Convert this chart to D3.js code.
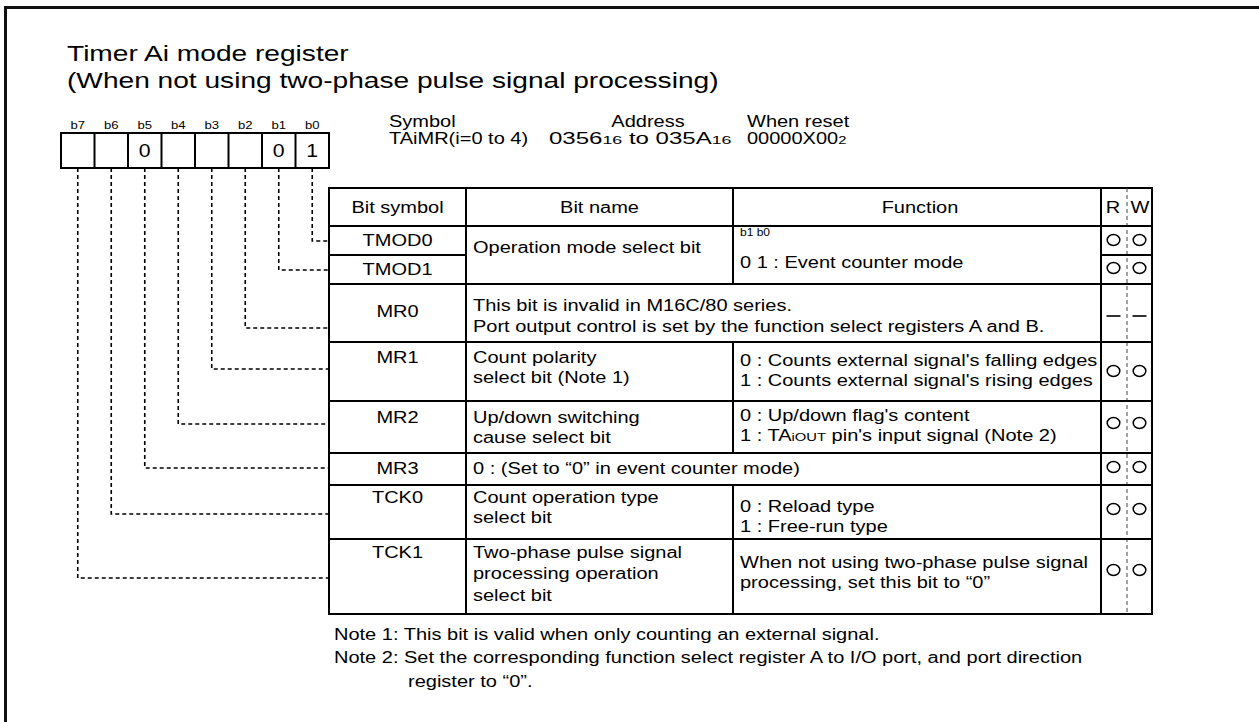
<!DOCTYPE html>
<html><head><meta charset="utf-8">
<script src="https://cdn.jsdelivr.net/npm/d3@7"></script>
<style>body{margin:0;background:#fff} svg{display:block}</style>
</head><body>
<svg id="c" width="1259" height="722"></svg>
<script>
// ---------- content ----------
const titleLines = ["Timer Ai mode register", "(When not using two-phase pulse signal processing)"];
const bitLabels = ["b7","b6","b5","b4","b3","b2","b1","b0"];
const bitValues = ["","","0","","","","0","1"];
const infoHeads = ["Symbol","Address","When reset"];
const infoValues = ["TAiMR(i=0 to 4)", "0356{16} to 035A{16}", "00000X00{2}"];
const headers = ["Bit symbol","Bit name","Function","R","W"];
// index 0 = b0 ... index 7 = b7
const bitSymbols = ["TMOD0","TMOD1","MR0","MR1","MR2","MR3","TCK0","TCK1"];
const bitNames = [
  ["Operation mode select bit"],
  [],
  ["This bit is invalid in M16C/80 series.","Port output control is set by the function select registers A and B."],
  ["Count polarity","select bit (Note 1)"],
  ["Up/down switching","cause select bit"],
  ["0 : (Set to \u201c0\u201d in event counter mode)"],
  ["Count operation type","select bit"],
  ["Two-phase pulse signal","processing operation","select bit"]
];
const funcCaption = "b1 b0";
const functions = [
  ["0 1 : Event counter mode"],
  [],
  [],
  ["0 : Counts external signal's falling edges","1 : Counts external signal's rising edges"],
  ["0 : Up/down flag's content","1 : TA{iOUT} pin's input signal (Note 2)"],
  [],
  ["0 : Reload type","1 : Free-run type"],
  ["When not using two-phase pulse signal","processing, set this bit to \u201c0\u201d"]
];
const readWrite = [["O","O"],["O","O"],["-","-"],["O","O"],["O","O"],["O","O"],["O","O"],["O","O"]];
const notes = [
  "Note 1: This bit is valid when only counting an external signal.",
  "Note 2: Set the corresponding function select register A to I/O port, and port direction",
  "register to \u201c0\u201d."
];

// ---------- layout ----------
const FONT = "Arial, 'Liberation Sans', Helvetica, sans-serif";
const SX = 1.25;           // horizontal stretch of the original scan
const FS = 16;             // body font size
const tbl = {x0:329, x1:466, x2:733, x3:1101, x4:1152, xrw:1127, top:188, head:226};
const rowEdges = [226,255,284,342,401,453,485,539,614]; // row tops, last = bottom
// offsets (from row top) of first text line centers etc.
const rowLay = [
  {sym:14, name:21, func:36, cap:6, rw:14, lead:15},
  {sym:14, rw:13, lead:15},
  {sym:27, name:21, gap:21, merged:true, rw:32, lead:44},
  {sym:15, name:15, func:18, rw:29, lead:27},
  {sym:16, name:16, func:14, rw:22, lead:23},
  {sym:15, name:15, merged:true, rw:14, lead:15},
  {sym:12, name:12, func:21, rw:24, lead:29},
  {sym:13, name:13, gap:21.5, func:23, rw:31, lead:39}
];

const svg = d3.select("#c").attr("font-family", FONT);

function addText(g, x, yc, str, fs, sx, anchor) {
  const t = g.append("text")
    .attr("transform", `translate(${x},${yc + 0.36*fs}) scale(${sx},1)`)
    .attr("font-size", fs).attr("text-anchor", anchor || "start").attr("fill", "#000");
  str.split(/(\{[^}]*\})/).filter(s => s).forEach(p => {
    if (p[0] === "{") t.append("tspan").attr("font-size", fs*0.74).text(p.slice(1,-1));
    else t.append("tspan").text(p);
  });
  return t;
}
function line(g, x1, y1, x2, y2, w, dash, col) {
  return g.append("line").attr("x1",x1).attr("y1",y1).attr("x2",x2).attr("y2",y2)
    .attr("stroke", col || "#000").attr("stroke-width", w || 2)
    .attr("stroke-dasharray", dash || null);
}

// frame
line(svg, 4, 7.5, 1259, 7.5, 3, null, "#111");
line(svg, 5.5, 6, 5.5, 722, 3, null, "#111");

// title
titleLines.forEach((s, i) => addText(svg, 67, 53 + i*27, s, 22.5, 1.25));

// bit box
const xb = d3.scaleBand().domain(bitLabels).range([61, 329]);
const gb = svg.append("g");
gb.append("rect").attr("x", 61).attr("y", 133).attr("width", 268).attr("height", 35)
  .attr("fill","none").attr("stroke","#000").attr("stroke-width",2);
bitLabels.slice(1).forEach(b => line(gb, xb(b), 133, xb(b), 168, 2));
bitLabels.forEach((b, i) => {
  addText(gb, xb(b) + xb.bandwidth()/2, 125, b, 10.5, 1.25, "middle");
  if (bitValues[i]) addText(gb, xb(b) + xb.bandwidth()/2, 150.5, bitValues[i], 19, 1.12, "middle");
});

// symbol / address / reset
const gi = svg.append("g");
addText(gi, 389, 121, infoHeads[0], FS, SX);
addText(gi, 389, 138.5, infoValues[0], FS, SX);
addText(gi, 648, 121, infoHeads[1], FS, SX, "middle");
addText(gi, 549, 138.5, infoValues[1], FS, SX).attr("textLength", 146).attr("lengthAdjust","spacingAndGlyphs");
addText(gi, 747, 121, infoHeads[2], FS, SX);
addText(gi, 747, 138.5, infoValues[2], FS, SX);

// leaders (dashed) from each bit to its row
const gl = svg.append("g");
bitSymbols.forEach((s, i) => {
  const b = bitLabels[7 - i];
  const cx = xb(b) + xb.bandwidth()/2;
  const y = rowEdges[i] + rowLay[i].lead;
  gl.append("path").attr("d", `M${cx},168 V${y} H${tbl.x0}`)
    .attr("fill","none").attr("stroke","#000").attr("stroke-width",1.6)
    .attr("stroke-dasharray","4,3");
});

// table
const gt = svg.append("g");
const bottom = rowEdges[rowEdges.length-1];
gt.append("rect").attr("x", tbl.x0).attr("y", tbl.top).attr("width", tbl.x4 - tbl.x0)
  .attr("height", bottom - tbl.top).attr("fill","none").attr("stroke","#000").attr("stroke-width",2);
line(gt, tbl.x1, tbl.top, tbl.x1, bottom, 2);
line(gt, tbl.x3, tbl.top, tbl.x3, bottom, 2);
line(gt, tbl.xrw, tbl.top, tbl.xrw, bottom, 1, "4,3", "#444");
// function column divider (skip merged rows)
line(gt, tbl.x2, tbl.top, tbl.x2, rowEdges[0], 2);
bitSymbols.forEach((s, i) => {
  if (!rowLay[i].merged) line(gt, tbl.x2, rowEdges[i], tbl.x2, rowEdges[i+1], 2);
});
// horizontal row lines
line(gt, tbl.x0, tbl.head, tbl.x4, tbl.head, 2);
rowEdges.slice(1, -1).forEach((y, k) => {
  const i = k + 1;
  if (i === 1) { line(gt, tbl.x0, y, tbl.x1, y, 2); line(gt, tbl.x3, y, tbl.x4, y, 2); }
  else line(gt, tbl.x0, y, tbl.x4, y, 2);
});

// headers
const hc = (tbl.top + tbl.head)/2;
addText(gt, (tbl.x0+tbl.x1)/2, hc, headers[0], FS, SX, "middle");
addText(gt, (tbl.x1+tbl.x2)/2, hc, headers[1], FS, SX, "middle");
addText(gt, (tbl.x2+tbl.x3)/2 + 3, hc, headers[2], FS, SX, "middle");
addText(gt, tbl.xrw - 14, hc, headers[3], FS, SX, "middle");
addText(gt, tbl.xrw + 13, hc, headers[4], FS, SX, "middle");

// rows
bitSymbols.forEach((s, i) => {
  const top = rowEdges[i], lay = rowLay[i];
  addText(gt, (tbl.x0+tbl.x1)/2, top + lay.sym, s, FS, SX, "middle");
  const gap = lay.gap || 20;
  bitNames[i].forEach((t, j) => addText(gt, tbl.x1 + 7, top + lay.name + j*gap, t, FS, SX));
  functions[i].forEach((t, j) => addText(gt, tbl.x2 + 7, top + lay.func + j*20, t, FS, SX));
  if (lay.cap !== undefined) addText(gt, tbl.x2 + 7, top + lay.cap, funcCaption, 10, 1.2);
  const ry = top + lay.rw;
  readWrite[i].forEach((m, k) => {
    const cx = k === 0 ? tbl.xrw - 13.5 : tbl.xrw + 12.5;
    if (m === "O") gt.append("ellipse").attr("cx", cx).attr("cy", ry).attr("rx", 6.3).attr("ry", 5.5)
      .attr("fill","none").attr("stroke","#000").attr("stroke-width",1.5);
    else line(gt, cx - 7, ry, cx + 7, ry, 1.6);
  });
});

// notes
const gn = svg.append("g");
notes.forEach((t, i) => addText(gn, i === 2 ? 408 : 334, 634 + i*23.5, t, FS, SX));
</script>
</body></html>
